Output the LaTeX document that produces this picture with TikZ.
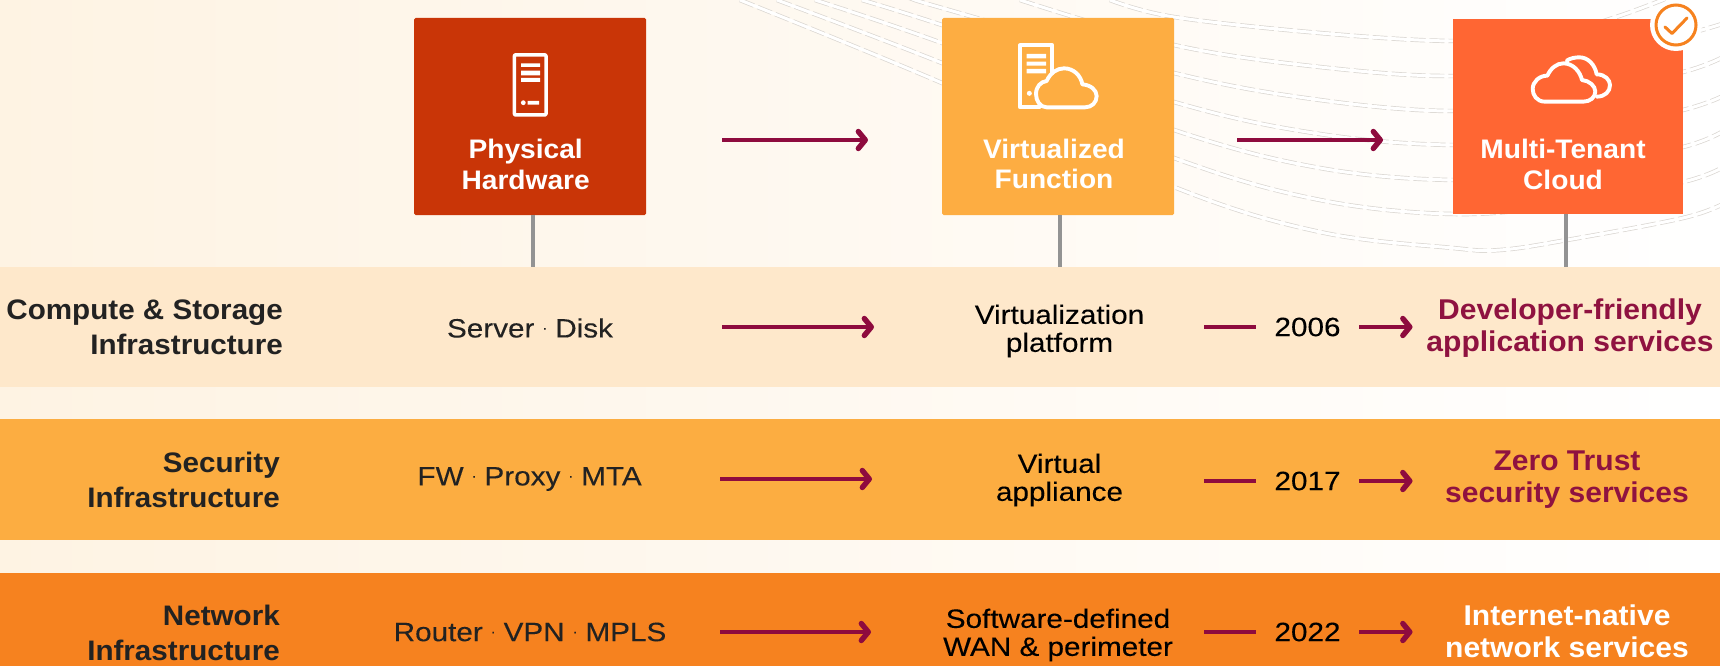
\documentclass[tikz,border=0pt]{standalone}
\usepackage{fontspec}
\setmainfont[FakeStretch=1.05]{Liberation Sans}
\newfontfamily\medfont[FakeStretch=1.12,FakeBold=0.14]{Liberation Sans}
\usetikzlibrary{arrows.meta}
\definecolor{bgA}{HTML}{FEF3E3}
\definecolor{bgB}{HTML}{FFF8EF}
\definecolor{boxA}{HTML}{C93507}
\definecolor{boxB}{HTML}{FDAD42}
\definecolor{boxC}{HTML}{FF6633}
\definecolor{bandA}{HTML}{FEE8CB}
\definecolor{bandB}{HTML}{FCAD41}
\definecolor{bandC}{HTML}{F6821F}
\definecolor{wine}{HTML}{8E0B3E}
\definecolor{winetxt}{HTML}{8F1240}
\definecolor{stemc}{HTML}{939393}
\definecolor{ink}{HTML}{222222}
\definecolor{waveg}{HTML}{DAD6D1}
\tikzset{
  bandbox/.style={rectangle,minimum width=1720pt,inner sep=0pt,outer sep=0pt},
  cardbox/.style={rectangle,rounded corners=1.5pt,inner sep=0pt,outer sep=0pt,text=white},
  cardtitle/.style={align=center,text=white,font=\fontsize{26.8}{30.5}\selectfont\bfseries,inner sep=0pt},
  rowhead/.style={align=right,anchor=east,text=ink,font=\fontsize{28.2}{35}\selectfont\bfseries,inner sep=0pt},
  midtext/.style={align=center,text=ink,font=\fontsize{26.5}{26.5}\medfont,inner sep=0pt},
  midtwo/.style={align=center,text=black,font=\fontsize{26.5}{28}\medfont,inner sep=0pt},
  yeartext/.style={align=center,text=black,font=\fontsize{26.5}{26.5}\medfont,inner sep=0pt,minimum width=103pt,minimum height=30pt},
  outcome/.style={align=center,font=\fontsize{28.6}{32}\selectfont\bfseries,inner sep=0pt},
  linkline/.style={draw=wine,line width=4.5pt},
  flowarrow/.style={draw=wine,line width=4.5pt,-{Straight Barb[length=7pt,width=17pt,line width=5.4pt,round]}},
  stemline/.style={draw=stemc,line width=4pt},
  waveedge/.style={draw=waveg,line width=4.4pt,dash pattern=on 15pt off 4pt},
  wavecore/.style={draw=white,line width=3pt},
  iconline/.style={draw=white,line width=3.9pt,line join=round,line cap=round},
}
\newcommand{\wavepair}[1]{%
  \draw[waveedge] plot[smooth,tension=.6] coordinates {#1};
  \draw[wavecore] plot[smooth,tension=.6] coordinates {#1};}
\newcommand{\sep}{\hspace{8pt}\raisebox{5pt}{\fontsize{13}{13}\selectfont ·}\hspace{8pt}}
\begin{document}
\begin{tikzpicture}[x=1pt,y=-1pt]
\useasboundingbox (0,0) rectangle (1720,666);
\begin{scope}
\clip (0,0) rectangle (1720,666);
\shade[left color=bgA,middle color=bgB,right color=white] (0,0) rectangle (1720,666);
% waves
\wavepair{(740,0)(942,83)(1174,187)(1320,232)(1453,248)(1500,250)(1567,240)(1683,218)(1725,203)}
\wavepair{(777,0)(942,63)(1174,158)(1320,200)(1453,214)(1560,205)(1683,182)(1725,166)}
\wavepair{(815,0)(942,43)(1174,130)(1320,168)(1453,180)(1560,172)(1683,147)(1725,130)}
\wavepair{(862,0)(942,25)(1174,102)(1320,134)(1453,145)(1560,137)(1683,110)(1725,95)}
\wavepair{(917,0)(942,8)(1174,73)(1320,100)(1453,111)(1560,100)(1683,72)(1725,56)}
\wavepair{(1020,0)(1174,45)(1320,67)(1453,76)(1560,65)(1683,35)(1725,23)}
\wavepair{(1110,0)(1174,17)(1320,33)(1453,41)(1550,35)(1613,18)(1665,-1)}
% bands
\node[bandbox,fill=bandA,minimum height=120pt] (band1) at (860,327) {};
\node[bandbox,fill=bandB,minimum height=121pt] (band2) at (860,479.5) {};
\node[bandbox,fill=bandC,minimum height=93pt] (band3) at (860,619.5) {};
% cards
\node[cardbox,fill=boxA,minimum width=232pt,minimum height=197pt] (card1) at (530,116.5) {};
\node[cardbox,fill=boxB,minimum width=232pt,minimum height=197pt] (card2) at (1058,116.5) {};
\node[rectangle,inner sep=0pt,outer sep=0pt,fill=boxC,minimum width=230pt,minimum height=195pt] (card3) at (1568,116.5) {};
% stems
\coordinate (s1) at (533,0);\coordinate (s2) at (1060,0);\coordinate (s3) at (1566,0);
\draw[stemline] (s1 |- card1.south) -- (s1 |- band1.north);
\draw[stemline] (s2 |- card2.south) -- (s2 |- band1.north);
\draw[stemline] (s3 |- card3.south) -- (s3 |- band1.north);
% card titles
\node[cardtitle] (t1) at (525.7,164.5) {Physical\\Hardware};
\node[cardtitle] (t2) at (1054,164) {Virtualized\\Function};
\node[cardtitle] (t3) at (1563,164.5) {Multi-Tenant\\Cloud};
% server icon 1
\draw[iconline,line width=3.5pt,rounded corners=1pt] (514.4,54.8) rectangle (546,115);
\fill[white] (521,63.3) rectangle (540,67) (521,70.7) rectangle (540,75.3) (521,78) rectangle (540,82);
\fill[white] (523.3,102.7) circle (2.4) (527.7,101) rectangle (539,104.7);
% server + cloud icon 2
\begin{scope}[shift={(1000,30)},x=0.3333pt,y=-0.3333pt]
\draw[iconline] (118,232) -- (60,232) -- (60,46) -- (157,46) -- (157,130);
\fill[white] (80,72) rectangle (138,85) (80,95) rectangle (138,107) (80,117) rectangle (138,130);
\fill[white] (88,190) circle (7.5);
\draw[iconline] (140,232) .. controls (120,232) and (108,212) .. (108,192) .. controls (108,170) and (122,155) .. (140,153) .. controls (150,130) and (170,115) .. (192,115) .. controls (222,115) and (243,138) .. (247,163) .. controls (272,165) and (290,180) .. (290,198) .. controls (290,218) and (275,232) .. (255,232) -- cycle;
\end{scope}
% cloud icon 3
\begin{scope}[shift={(1520,40)},x=0.3333pt,y=-0.3333pt]
\draw[iconline] (75,185) .. controls (50,185) and (38,165) .. (38,147) .. controls (38,125) and (58,107) .. (82,107) .. controls (92,85) and (110,70) .. (130,70) .. controls (160,70) and (180,95) .. (186,120) .. controls (208,122) and (226,138) .. (226,155) .. controls (226,172) and (210,185) .. (190,185) -- cycle;
\draw[iconline] (140,62) .. controls (150,55) and (165,52) .. (178,52) .. controls (205,52) and (225,75) .. (230,103) .. controls (255,103) and (270,120) .. (270,135) .. controls (270,155) and (255,170) .. (230,170);
\end{scope}
% badge
\node[circle,fill=white,minimum size=52pt,inner sep=0pt] (badge) at (1676,25) {};
\node[circle,draw=bandC,line width=3pt,minimum size=40pt,inner sep=0pt] (ring) at (badge) {};
\draw[draw=bandC,line width=3pt,line join=round,line cap=round] (1665,27) -- (1672,33.5) -- (1687,18);
% top arrows
\coordinate (ta1) at (722,140);\coordinate (tb1) at (868,140);
\coordinate (ta2) at (1237,140);\coordinate (tb2) at (1383,140);
\draw[flowarrow] (ta1) -- (tb1);
\draw[flowarrow] (ta2) -- (tb2);
% row heads
\node[rowhead] (h1) at (283,327) {Compute \& Storage\\Infrastructure};
\node[rowhead] (h2) at (280,480) {Security\\Infrastructure};
\node[rowhead] (h3) at (280,633) {Network\\Infrastructure};
% hardware items
\node[midtext] (m1) at (530,328) {Server\sep Disk};
\node[midtext] (m2) at (529.6,479) {FW\sep Proxy\sep MTA};
\node[midtext] (m3) at (530,632) {Router\sep VPN\sep MPLS};
% row arrows
\coordinate (ra1) at (722,327);\coordinate (rb1) at (874,327);
\coordinate (ra2) at (720,479);\coordinate (rb2) at (872,479);
\coordinate (ra3) at (720,632);\coordinate (rb3) at (871,632);
\draw[flowarrow] (ra1) -- (rb1);
\draw[flowarrow] (ra2) -- (rb2);
\draw[flowarrow] (ra3) -- (rb3);
% virtual
\node[midtwo] (v1) at (1059.5,331) {Virtualization\\platform};
\node[midtwo] (v2) at (1059.5,480) {Virtual\\appliance};
\node[midtwo] (v3) at (1058,635) {Software-defined\\WAN \& perimeter};
% years
\node[yeartext] (y1) at (1307.5,327) {2006};
\node[yeartext] (y2) at (1307.5,481) {2017};
\node[yeartext] (y3) at (1307.5,632) {2022};
\coordinate (da1) at (1204,327);\coordinate (da2) at (1204,481);\coordinate (da3) at (1204,632);
\coordinate (db1) at (1412.5,327);\coordinate (db2) at (1412.5,481);\coordinate (db3) at (1412.5,632);
\draw[linkline] (da1) -- (y1.west);
\draw[linkline] (da2) -- (y2.west);
\draw[linkline] (da3) -- (y3.west);
\draw[flowarrow] (y1.east) -- (db1);
\draw[flowarrow] (y2.east) -- (db2);
\draw[flowarrow] (y3.east) -- (db3);
% outcomes
\node[outcome,text=winetxt] (o1) at (1570,328.5) {Developer-friendly\\application services};
\node[outcome,text=winetxt] (o2) at (1567,479.5) {Zero Trust\\security services};
\node[outcome,text=white] (o3) at (1567,631.5) {Internet-native\\network services};
\end{scope}
\end{tikzpicture}
\end{document}
